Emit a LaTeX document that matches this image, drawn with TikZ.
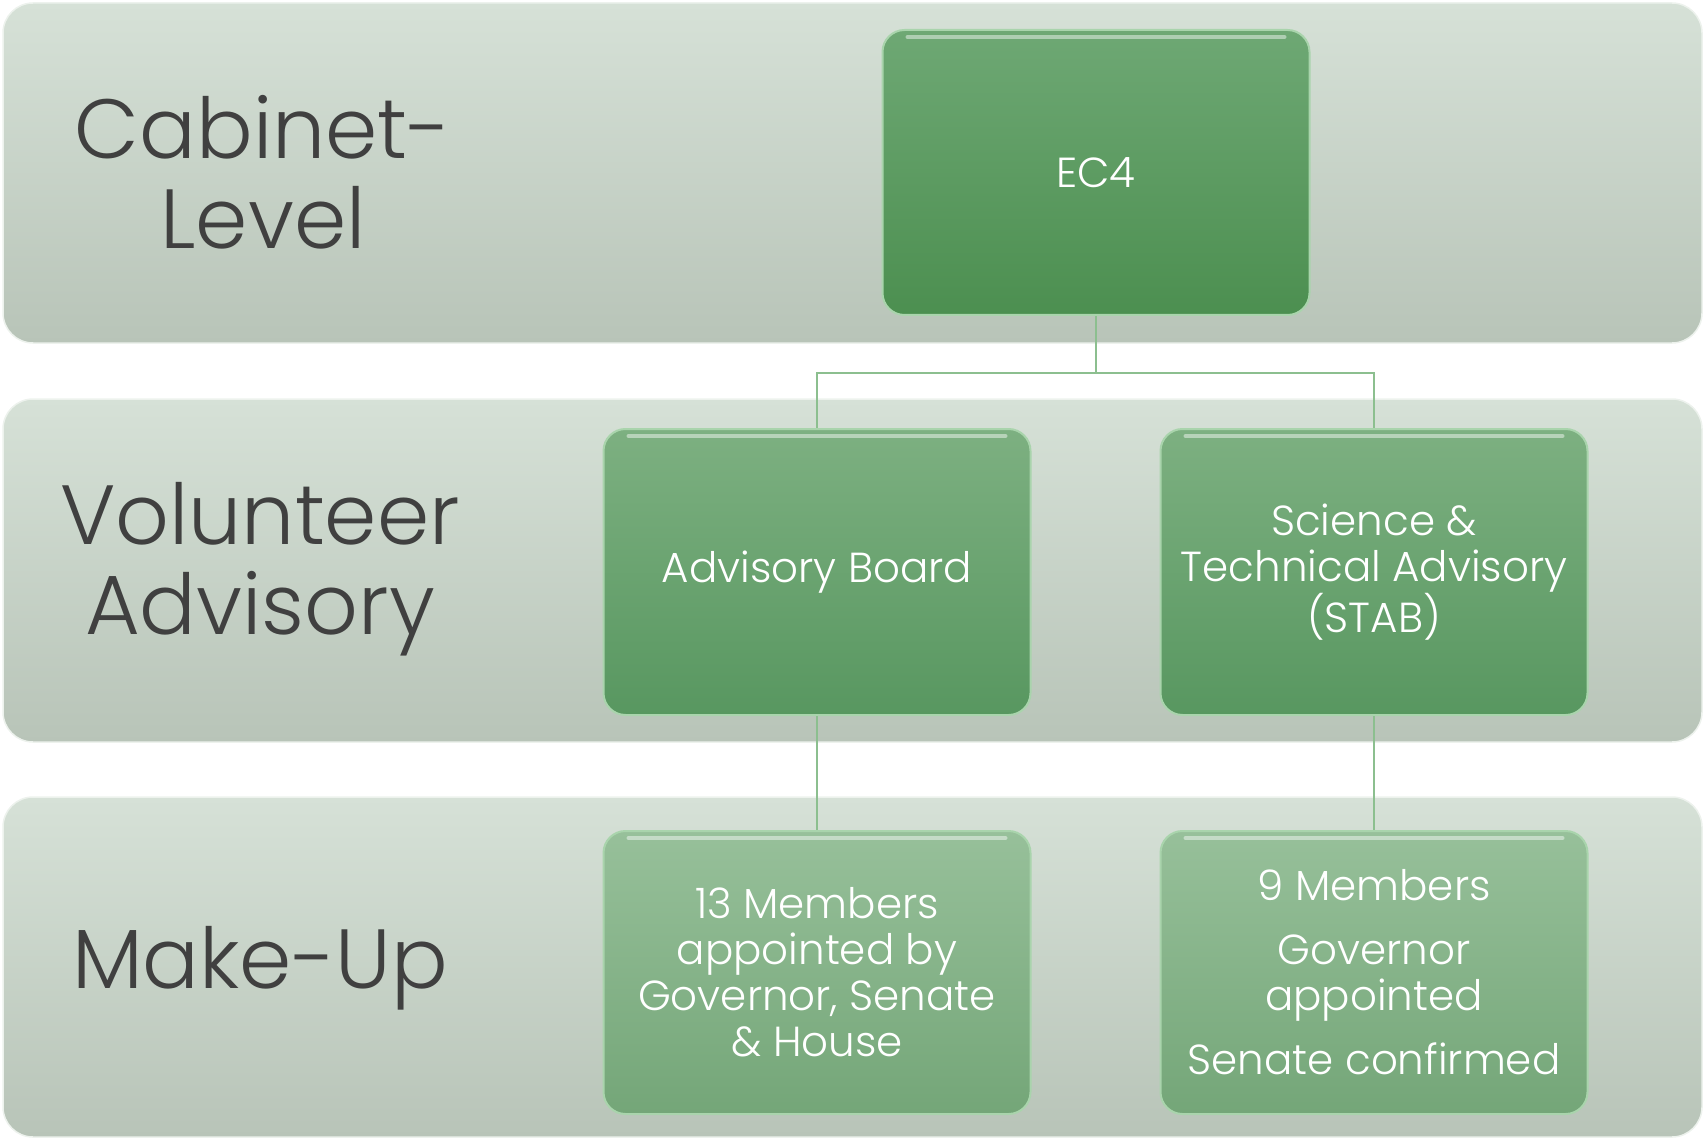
\documentclass[tikz,border=0pt]{standalone}
\usepackage{fontspec}
\setmainfont{Poppins}[UprightFont=* Light]
\usetikzlibrary{calc}
\definecolor{bandtop}{HTML}{D6E1D7}
\definecolor{bandbot}{HTML}{B8C4B8}
\definecolor{labeltext}{HTML}{404040}
\definecolor{conn}{HTML}{8CBF8F}
\definecolor{rowatop}{HTML}{6EA874}
\definecolor{rowabot}{HTML}{4C8F50}
\definecolor{rowbtop}{HTML}{7DB081}
\definecolor{rowbbot}{HTML}{589760}
\definecolor{rowctop}{HTML}{97C09A}
\definecolor{rowcbot}{HTML}{74A678}
\definecolor{boxedge}{HTML}{A9D4AC}
\begin{document}
\begin{tikzpicture}[x=1pt,y=-1pt,
  band/.style={rounded corners=30pt, top color=bandtop, bottom color=bandbot, draw=white!55!bandtop, line width=1.5pt},
  lab/.style={align=center, text=labeltext, font=\fontsize{84}{90}\selectfont, inner sep=0pt},
  gbox/.style={rounded corners=22pt, draw=boxedge, line width=2pt, text=white, align=center,
     minimum width=427pt, inner sep=0pt, font=\fontsize{42}{46}\selectfont},
  rowa/.style={gbox, top color=rowatop, bottom color=rowabot, minimum height=285pt},
  rowb/.style={gbox, top color=rowbtop, bottom color=rowbbot, minimum height=286pt},
  rowc/.style={gbox, top color=rowctop, bottom color=rowcbot, minimum height=283pt},
  conline/.style={draw=conn, line width=2.2pt},
  gloss/.style={draw=white, draw opacity=0.45, line width=4pt, line cap=round}]
\useasboundingbox (0,0) rectangle (1704,1139);
% bands
\path[band] (3,3) rectangle (1702,343);
\path[band] (3,399) rectangle (1702,742);
\path[band] (3,797) rectangle (1702,1137);
% labels
\node[lab] (lcab) at (263,172) {Cabinet-\\Level};
\node[lab] (lvol) at (260,569) {Volunteer\\Advisory};
\node[lab] (lmake) at (260,968) {Make-Up};
% boxes
\node[rowa] (ec4) at (1096,172.5) {EC4};
\node[rowb] (ab) at (817,572) {Advisory Board};
\node[rowb] (stab) at (1374,572) {Science \&\\Technical Advisory\\(STAB)};
\node[rowc] (m13) at (817,972.5) {13 Members\\appointed by\\Governor, Senate\\\& House};
\node[rowc] (m9) at (1374,972.5) {9 Members\\[18pt]Governor\\appointed\\[18pt]Senate confirmed};
% glossy highlights
\foreach \b in {ec4,ab,stab,m13,m9}{
  \draw[gloss] ($(\b.north west)+(26,8)$) -- ($(\b.north east)+(-26,8)$);
}
% connectors
\coordinate (jn) at ($(ec4.south)+(0,57)$);
\draw[conline] (ec4.south) -- (jn) -| (ab.north);
\draw[conline] (jn) -| (stab.north);
\draw[conline] (ab.south) -- (m13.north);
\draw[conline] (stab.south) -- (m9.north);
\end{tikzpicture}
\end{document}
